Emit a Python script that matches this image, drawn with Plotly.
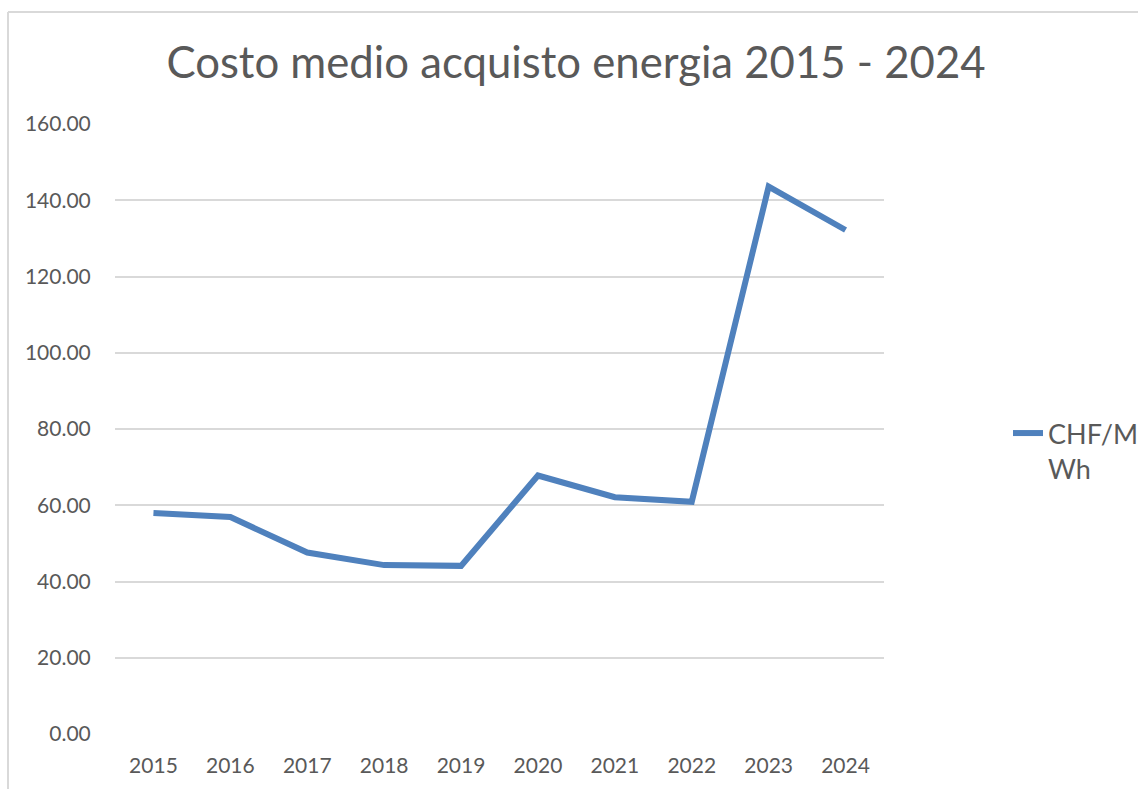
import plotly.graph_objects as go

years = ["2015", "2016", "2017", "2018", "2019", "2020", "2021", "2022", "2023", "2024"]
chf_mwh = [58.0, 56.9, 47.6, 44.3, 44.1, 67.8, 62.1, 60.9, 143.6, 132.2]
y_ticks = [0, 20, 40, 60, 80, 100, 120, 140, 160]

W, H = 1138, 789
L, R, T, B = 115, 1138 - 884, 124, 789 - 734
pw, ph = W - L - R, H - T - B

def px(x):
    return (x - L) / pw

def py(y):
    return (H - B - y) / ph

TXT = "#595959"
FONT = "Lato"

fig = go.Figure()
fig.add_trace(go.Scatter(
    x=years, y=chf_mwh, mode="lines", name="CHF/M<br>Wh",
    line=dict(color="#4F81BD", width=6),
))

fig.update_layout(
    width=W, height=H,
    margin=dict(l=L, r=R, t=T, b=B, autoexpand=False),
    paper_bgcolor="white", plot_bgcolor="white",
    font=dict(family=FONT, color=TXT),
    title=dict(text="Costo medio acquisto energia 2015 - 2024",
               x=576 / W, xref="container", xanchor="center",
               y=1 - 63 / H, yref="container", yanchor="middle",
               font=dict(size=43.7, color=TXT, family=FONT)),
    xaxis=dict(type="category", range=[-0.5, 9.5], showgrid=False, zeroline=False,
               showline=False, ticks="outside", ticklen=13, tickcolor="rgba(0,0,0,0)",
               tickfont=dict(size=21, color=TXT)),
    yaxis=dict(range=[0, 160], tickvals=y_ticks, tickformat=".2f", showgrid=True,
               gridcolor="#D9D9D9", gridwidth=2, zeroline=False, showline=False,
               ticks="outside", ticklen=19, tickcolor="rgba(0,0,0,0)",
               tickfont=dict(size=21, color=TXT)),
    legend=dict(xref="container", yref="container",
                x=1008 / W, xanchor="left", y=1 - 409 / H, yanchor="top",
                valign="top",
                font=dict(size=27, color=TXT), bgcolor="rgba(0,0,0,0)",
                itemwidth=30),
    showlegend=True,
)

# chart area border (top and left edges visible)
fig.add_shape(type="line", xref="paper", yref="paper",
              x0=px(8), x1=px(W + 5), y0=py(12), y1=py(12),
              line=dict(color="#D9D9D9", width=2))
fig.add_shape(type="line", xref="paper", yref="paper",
              x0=px(8), x1=px(8), y0=py(12), y1=py(H + 5),
              line=dict(color="#D9D9D9", width=2))

page_fix = (
    "document.documentElement.style.margin='0';"
    "document.documentElement.style.overflow='hidden';"
    "document.body.style.margin='0';"
    "document.body.style.overflow='hidden';"
)
fig.write_html("out.html", post_script=page_fix, config={"displayModeBar": False})
